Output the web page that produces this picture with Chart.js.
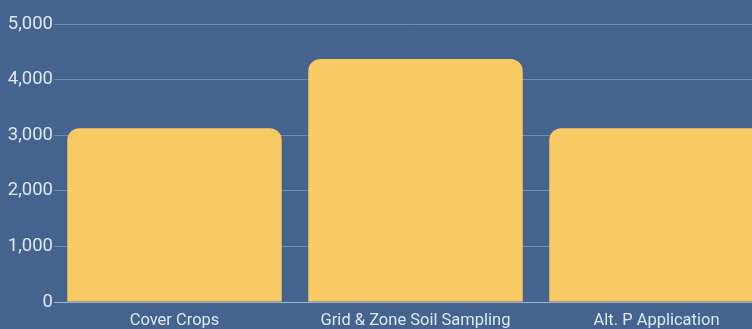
<!DOCTYPE html>
<html>
<head>
<meta charset="utf-8">
<script src="https://cdn.jsdelivr.net/npm/chart.js@4/dist/chart.umd.min.js"></script>
<style>
  html, body { margin: 0; padding: 0; overflow: hidden; background: #44638f; }
  #wrap { position: relative; width: 780px; height: 329px; }
</style>
</head>
<body>
<div id="wrap"><canvas id="practiceChart"></canvas></div>
<script>
// chart data
const categories = ["Cover Crops", "Grid & Zone Soil Sampling", "Alt. P Application"];
const acres = [3125, 4370, 3125];
const yTicks = [0, 1000, 2000, 3000, 4000, 5000];

document.addEventListener("DOMContentLoaded", () => {
  const ctx = document.getElementById("practiceChart").getContext("2d");
  new Chart(ctx, {
    type: "bar",
    data: {
      labels: categories,
      datasets: [
        {
          data: acres,
          backgroundColor: "#f7ca64",
          borderRadius: 12,
          borderSkipped: "start",
          barPercentage: 1,
          categoryPercentage: 0.89,
        },
      ],
    },
    options: {
      responsive: true,
      maintainAspectRatio: false,
      animation: false,
      layout: { padding: { left: 8, right: 3, top: 24, bottom: 0 } },
      plugins: { legend: { display: false }, tooltip: { enabled: false } },
      scales: {
        x: {
          afterFit: (scale) => { scale.height = 27; },
          grid: { display: false },
          border: { display: true, color: "rgba(220,230,245,0.45)", width: 1 },
          ticks: {
            color: "#dfe7f2",
            font: { family: "Roboto", size: 16.5 },
            padding: 1,
            maxRotation: 0,
          },
        },
        y: {
          min: 0,
          max: 5000,
          afterFit: (scale) => { scale.width = 46; },
          afterBuildTicks: (scale) => { scale.ticks = yTicks.map((v) => ({ value: v })); },
          grid: { color: "rgba(220,230,245,0.3)", drawTicks: false },
          border: { display: false },
          ticks: {
            color: "#dfe7f2",
            font: { family: "Roboto", size: 18.5 },
            padding: 1,
            callback: (v) => v.toLocaleString("en-US"),
          },
        },
      },
    },
  });
});
</script>
</body>
</html>
